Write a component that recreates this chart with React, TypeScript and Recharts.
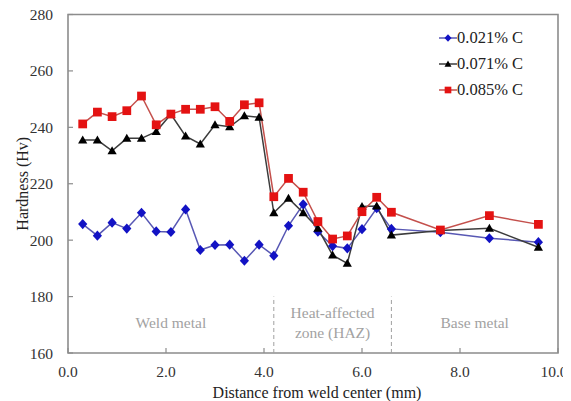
import { Legend, Line, LineChart, ReferenceArea, ReferenceLine, XAxis, YAxis } from "recharts";

const distances = [
	0.3, 0.6, 0.9, 1.2, 1.5, 1.8, 2.1, 2.4, 2.7, 3.0, 3.3, 3.6, 3.9,
	4.2, 4.5, 4.8, 5.1, 5.4, 5.7, 6.0, 6.3, 6.6, 7.6, 8.6, 9.6,
];
const carbon021 = [
	205.7, 201.6, 206.2, 204.1, 209.7, 203.1, 202.9, 210.9, 196.5, 198.3, 198.4, 192.7, 198.4,
	194.5, 205.1, 212.7, 203.0, 197.9, 197.1, 203.9, 211.3, 204.0, 202.8, 200.7, 199.3,
];
const carbon071 = [
	235.5, 235.5, 231.7, 236.1, 236.1, 238.5, 244.6, 236.9, 234.1, 240.9, 240.2, 244.1, 243.6,
	209.7, 214.8, 209.7, 204.2, 194.7, 191.8, 211.9, 212.1, 201.8, 203.4, 204.2, 197.5,
];
const carbon085 = [
	241.2, 245.4, 243.8, 245.9, 251.1, 240.9, 244.7, 246.4, 246.4, 247.3, 242.1, 248.0, 248.7,
	215.4, 221.9, 217.0, 206.6, 200.4, 201.5, 210.1, 215.2, 209.9, 203.6, 208.7, 205.6,
];
const xTicks = [0, 2, 4, 6, 8, 10];
const yTicks = [160, 180, 200, 220, 240, 260, 280];
// zone boundaries (mm) and the height the dashed dividers reach
const zoneEdges = [4.2, 6.6];
const zoneTop = 180;
const zones = [
	{ from: 0, to: 4.2, lines: ["Weld metal"] },
	{ from: 4.2, to: 6.6, lines: ["Heat-affected", "zone (HAZ)"] },
	{ from: 6.6, to: 10, lines: ["Base metal"] },
];

const data = distances.map((d, i) => ({
	distance: d,
	c021: carbon021[i],
	c071: carbon071[i],
	c085: carbon085[i],
}));

const FONT = "Liberation Serif, DejaVu Serif, serif";
const AXIS = "#8c8c8c";

type Shape = "diamond" | "triangle" | "square";

const series: { key: string; name: string; shape: Shape; marker: string; line: string }[] = [
	{ key: "c021", name: "0.021% C", shape: "diamond", marker: "#1212c4", line: "#5858b4" },
	{ key: "c071", name: "0.071% C", shape: "triangle", marker: "#000000", line: "#3c3c3c" },
	{ key: "c085", name: "0.085% C", shape: "square", marker: "#e41212", line: "#c4504c" },
];

const Marker = ({ cx, cy, shape, fill, r }: { cx: number; cy: number; shape: Shape; fill: string; r: number }) => {
	if (cx == null || cy == null) return null;
	if (shape === "diamond") {
		return <polygon points={`${cx},${cy - r * 1.1} ${cx + r},${cy} ${cx},${cy + r * 1.1} ${cx - r},${cy}`} fill={fill} />;
	}
	if (shape === "triangle") {
		return <polygon points={`${cx},${cy - r} ${cx + r},${cy + r * 0.75} ${cx - r},${cy + r * 0.75}`} fill={fill} />;
	}
	return <rect x={cx - r * 0.95} y={cy - r * 0.95} width={r * 1.9} height={r * 1.9} fill={fill} />;
};

// bottom tick; the last label is pulled in a little so it stays on the page
const XTick = ({ x, y, payload }: any) => (
	<text x={x} y={y} dy="0.71em" dx={payload.value === 10 ? -4 : 0} textAnchor="middle" fill="#333" fontSize={15.5} style={{ fontFamily: FONT }}>
		{Number(payload.value).toFixed(1)}
	</text>
);

const ZoneLabel = ({ viewBox, lines }: any) => {
	if (!viewBox) return null;
	const cx = viewBox.x + viewBox.width / 2;
	const cy = viewBox.y + viewBox.height / 2 - 2;
	const lh = 20;
	return (
		<text textAnchor="middle" fill="#a2a2a2" fontSize={15.5} style={{ fontFamily: FONT }}>
			{lines.map((l: string, i: number) => (
				<tspan key={i} x={cx} y={cy - ((lines.length - 1) * lh) / 2 + i * lh} dy="0.35em">
					{l}
				</tspan>
			))}
		</text>
	);
};

const XTitle = ({ viewBox }: any) => {
	if (!viewBox) return null;
	return (
		<text x={viewBox.x + viewBox.width / 2 + 4} y={viewBox.y + 45} textAnchor="middle" fill="#222" fontSize={16} style={{ fontFamily: FONT }}>
			Distance from weld center (mm)
		</text>
	);
};

const YTitle = ({ viewBox }: any) => {
	if (!viewBox) return null;
	const x = 14;
	const y = viewBox.y + viewBox.height / 2;
	return (
		<text x={x} y={y} dy="0.35em" transform={`rotate(-90, ${x}, ${y})`} textAnchor="middle" fill="#222" fontSize={16} style={{ fontFamily: FONT }}>
			Hardness (Hv)
		</text>
	);
};

const LegendBox = () => (
	<div style={{ fontFamily: FONT, fontSize: 16.5, color: "#222" }}>
		{series.map((s) => (
			<div key={s.key} style={{ display: "flex", alignItems: "center", height: 26 }}>
				<svg width={18} height={12} style={{ display: "block" }}>
					<line x1={0} x2={18} y1={6} y2={6} stroke={s.line} strokeWidth={1.5} />
					<Marker cx={9} cy={6} shape={s.shape} fill={s.marker} r={3.5} />
				</svg>
				<span>{s.name}</span>
			</div>
		))}
	</div>
);

export default function App() {
	return (
		<div style={{ fontFamily: FONT }}>
			<style>{".recharts-surface { overflow: visible; }"}</style>
			<LineChart width={563} height={393} data={data} margin={{ top: 6.5, right: 13, left: 0, bottom: 0 }}>
				<XAxis
					type="number"
					dataKey="distance"
					domain={[0, 10]}
					ticks={xTicks}
					interval={0}
					tick={<XTick />}
					tickSize={-5}
					tickMargin={18}
					tickLine={{ stroke: AXIS, strokeWidth: 1.2 }}
					axisLine={false}
					height={48}
					label={<XTitle />}
				/>
				<YAxis
					type="number"
					domain={[160, 280]}
					ticks={yTicks}
					interval={0}
					tick={{ fill: "#333", fontSize: 15.5, style: { fontFamily: FONT } }}
					tickSize={-5}
					tickMargin={20}
					tickLine={{ stroke: AXIS, strokeWidth: 1.2 }}
					axisLine={false}
					width={60}
					label={<YTitle />}
				/>
				<ReferenceArea x1={0} x2={10} y1={160} y2={280} fill="none" stroke={AXIS} strokeWidth={1.6} />
				{zones.map((z) => (
					<ReferenceArea
						key={z.from}
						x1={z.from}
						x2={z.to}
						y1={160}
						y2={zoneTop}
						fill="none"
						stroke="none"
						label={<ZoneLabel lines={z.lines} />}
					/>
				))}
				{zoneEdges.map((x) => (
					<ReferenceLine
						key={x}
						segment={[{ x, y: 160 }, { x, y: zoneTop }]}
						stroke="#a0a0a0"
						strokeWidth={1}
						strokeDasharray="4 3"
					/>
				))}
				{series.map((s) => (
					<Line
						key={s.key}
						dataKey={s.key}
						name={s.name}
						stroke={s.line}
						strokeWidth={1.5}
						isAnimationActive={false}
						dot={(p: any) => <Marker key={p.index} cx={p.cx} cy={p.cy} shape={s.shape} fill={s.marker} r={4.6} />}
						activeDot={false}
					/>
				))}
				<Legend
					layout="vertical"
					align="center"
					verticalAlign="middle"
					content={<LegendBox />}
					wrapperStyle={{ position: "absolute", top: 17, left: 431, width: 130 }}
				/>
			</LineChart>
		</div>
	);
}
